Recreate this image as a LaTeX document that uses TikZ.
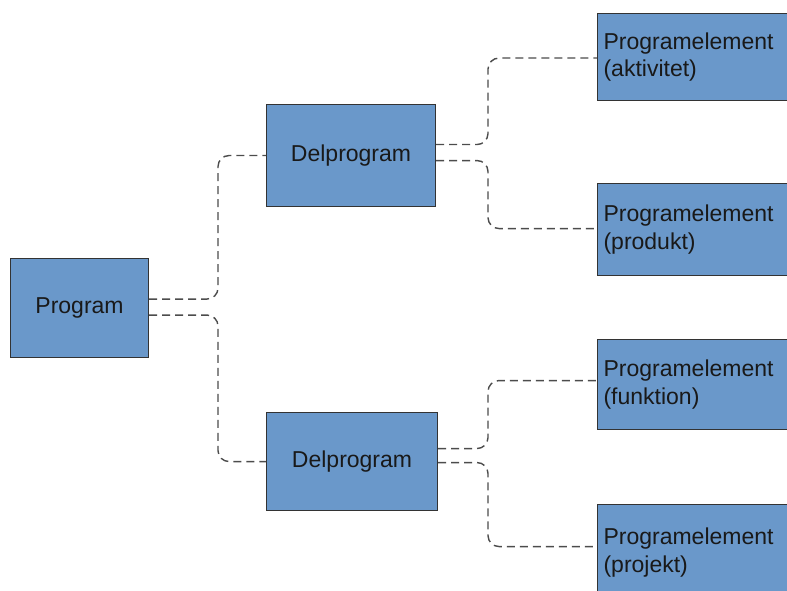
\documentclass[tikz,border=0pt]{standalone}
\usepackage{fontspec}
\setmainfont{Liberation Sans}
\begin{document}
\begin{tikzpicture}[x=1pt,y=-1pt,
  box/.style={draw=black!80, line width=1.1pt, fill=boxblue, text=black!90,
    font=\fontsize{23}{27.5}\selectfont, inner sep=0pt},
  leaf/.style={box, anchor=north west, minimum width=240pt, minimum height=88pt,
    text width=228pt, align=left},
  conn/.style={draw=black!70, line width=1.4pt, dash pattern=on 8pt off 5pt,
    rounded corners=11pt}]
\definecolor{boxblue}{RGB}{106,152,202}
\useasboundingbox (0,0) rectangle (787,591);
\clip (0,0) rectangle (787,591);

% root and sub-program boxes
\node[box, anchor=north west, minimum width=138pt, minimum height=99pt] (prog) at (10,258) {Program};
\node[box, anchor=north west, minimum width=169pt, minimum height=102pt] (dtop) at (266,104) {Delprogram};
\node[box, anchor=north west, minimum width=171pt, minimum height=98pt] (dbot) at (266,412) {Delprogram};

% element boxes (running off the right edge)
\node[leaf, minimum height=87pt] (e1) at (597,13) {Programelement\\(aktivitet)};
\node[leaf, minimum height=92pt] (e2) at (597,183) {Programelement\\(produkt)};
\node[leaf, minimum height=90pt] (e3) at (597,339) {Programelement\\(funktion)};
\node[leaf, minimum height=96pt] (e4) at (597,504) {Programelement\\(projekt)};

% vertical bus lines
\coordinate (busL) at (218,0);
\coordinate (busR) at (488,0);

% entry points on the element boxes
\coordinate (in1) at ([yshift=-1pt]e1.west);
\coordinate (in2) at ([yshift=1pt]e2.west);
\coordinate (in3) at ([yshift=4pt]e3.west);
\coordinate (in4) at ([yshift=6pt]e4.west);

% Program -> Delprogram
\draw[conn] ([yshift=9pt]prog.east) -| (busL |- dtop.west) -- (dtop.west);
\draw[conn] ([yshift=-7pt]prog.east) -| (busL |- dbot.west) -- (dbot.west);

% upper Delprogram -> elements
\draw[conn] ([yshift=11pt]dtop.east) -| (busR |- in1) -- (in1);
\draw[conn] ([yshift=-5pt]dtop.east) -| (busR |- in2) -- (in2);

% lower Delprogram -> elements
\draw[conn] ([yshift=13pt]dbot.east) -| (busR |- in3) -- (in3);
\draw[conn] ([yshift=-1pt]dbot.east) -| (busR |- in4) -- (in4);
\end{tikzpicture}
\end{document}
